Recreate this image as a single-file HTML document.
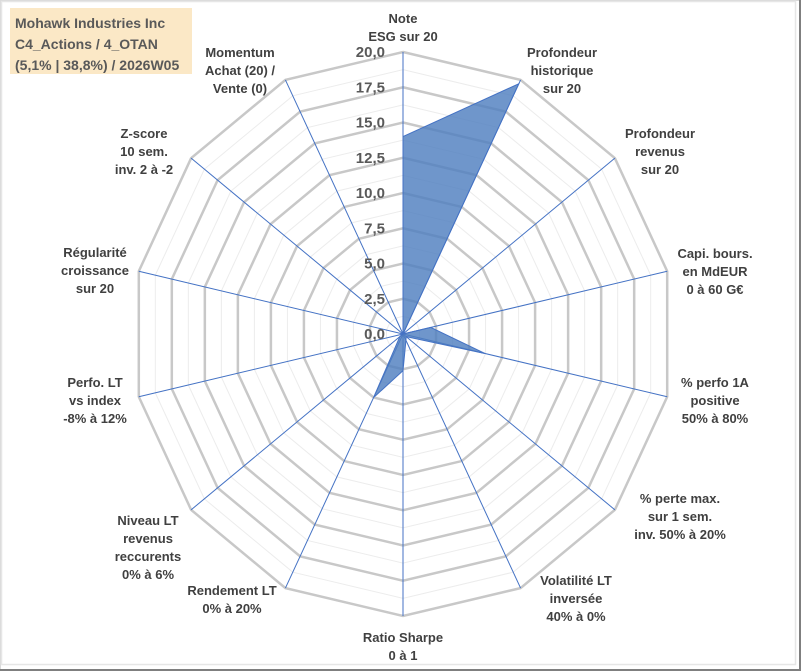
<!DOCTYPE html>
<html><head><meta charset="utf-8"><style>
body{margin:0;background:#fff;}
svg{display:block;font-family:"Liberation Sans",sans-serif;}
</style></head><body>
<svg width="801" height="671">
<rect x="0.5" y="0.5" width="800" height="670" fill="#fff" stroke="#d9d9d9"/>
<line x1="800" y1="0" x2="800" y2="671" stroke="#7f7f7f" stroke-width="2"/>
<line x1="0" y1="670" x2="801" y2="670" stroke="#7f7f7f" stroke-width="2"/>
<rect x="1.5" y="1.5" width="794" height="663" fill="none" stroke="#e6e6e6" stroke-width="1.5"/>
<g id="grid"></g><g id="spokes"></g><g id="series"></g><g id="ticks"></g><g id="labels"></g>
<rect x="10" y="8" width="182" height="66" fill="#fbe8c6"/>
<text font-size="14" fill="#595959" font-weight="bold">
<tspan x="15" y="28">Mohawk Industries Inc</tspan><tspan x="15" y="49">C4_Actions / 4_OTAN</tspan><tspan x="15" y="70">(5,1% | 38,8%) / 2026W05</tspan></text>
</svg>
<script>
const categories=[["Note","ESG sur 20"],["Profondeur","historique","sur 20"],["Profondeur","revenus","sur 20"],["Capi. bours.","en MdEUR","0 à 60 G€"],["% perfo 1A","positive","50% à 80%"],["% perte max.","sur 1 sem.","inv. 50% à 20%"],["Volatilité LT","inversée","40% à 0%"],["Ratio Sharpe","0 à 1"],["Rendement LT","0% à 20%"],["Niveau LT","revenus","reccurents","0% à 6%"],["Perfo. LT","vs index","-8% à 12%"],["Régularité","croissance","sur 20"],["Z-score","10 sem.","inv. 2 à -2"],["Momentum","Achat (20) /","Vente (0)"]];
const values=[14,19.7,0,2.1,6.2,0.3,0.5,2.6,5,0.3,0,0,0,0];
const tickLabels=["0,0","2,5","5,0","7,5","10,0","12,5","15,0","17,5","20,0"];
const maxV=20;
const labelPos=[[403,18],[562,52],[660,133],[715,253],[715,382],[680,498],[576,580],[403,637],[232,590],[148,520],[95,382],[95,252],[144,133],[240,52]];
const cx=403,cy=334,RX=271,RY=282,N=categories.length,NS="http://www.w3.org/2000/svg";
function pt(i,v){const a=i*2*Math.PI/N;const f=v/maxV;return [cx+f*RX*Math.sin(a),cy-f*RY*Math.cos(a)];}
function mk(t,attrs,parent){const e=document.createElementNS(NS,t);for(const k in attrs)e.setAttribute(k,attrs[k]);document.getElementById(parent).appendChild(e);return e;}
for(let k=1;k<=16;k++){const v=k*1.25;const p=[];for(let i=0;i<N;i++)p.push(pt(i,v).join(','));
const e=mk('polygon',{points:p.join(' '),fill:'none',stroke:k%2?'#ececec':'#c8c8c8','stroke-width':k%2?1:2.5},'grid');

}
for(let i=0;i<N;i++){const q=pt(i,maxV);const e=mk('line',{x1:cx,y1:cy,x2:q[0],y2:q[1],stroke:'#4472c4','stroke-width':1},'spokes');

}
const sp=values.map((v,i)=>pt(i,v).join(','));
const poly=mk('polygon',{points:sp.join(' '),fill:'#4f7fbf','fill-opacity':0.82,stroke:'#4472c4','stroke-width':1},'series');


tickLabels.forEach((t,k)=>{const v=k*2.5;const y=cy-v/maxV*RY;const e=mk('text',{x:385,y:y+5,'text-anchor':'end','font-size':15,'font-weight':'bold',fill:'#595959'},'ticks');e.textContent=t;

});
categories.forEach((c,i)=>{const [x,y]=labelPos[i];const e=mk('text',{'font-size':13,'font-weight':'bold',fill:'#404040','text-anchor':'middle'},'labels');


c.forEach((l,j)=>{const s=document.createElementNS(NS,'tspan');s.setAttribute('x',x);s.setAttribute('y',y+j*18+5);s.textContent=l;e.appendChild(s);});});
</script>
</body></html>
